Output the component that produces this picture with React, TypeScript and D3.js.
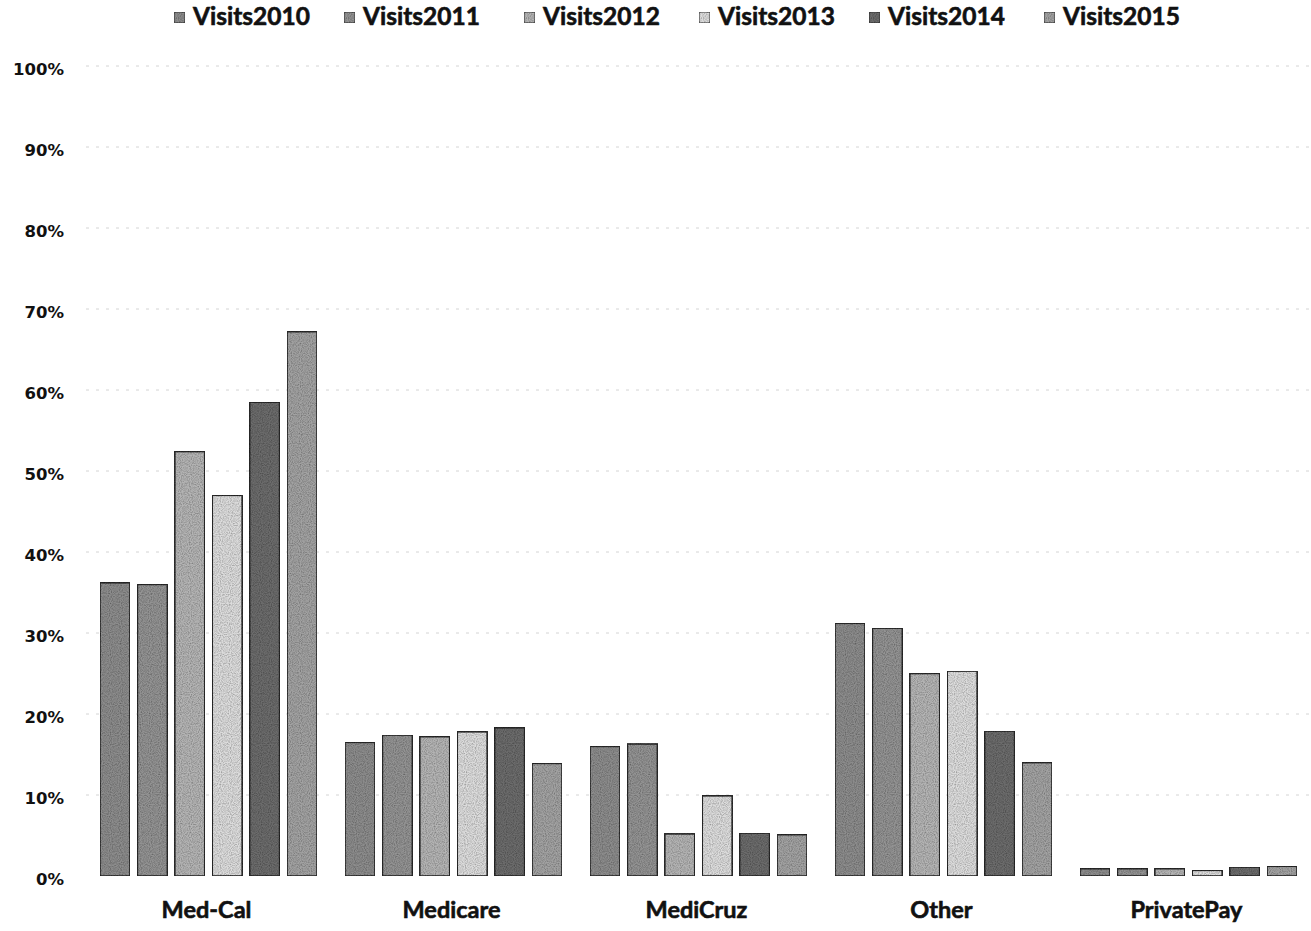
import * as d3 from 'd3';
import { useEffect, useRef } from 'react';

const categories = ['Med-Cal', 'Medicare', 'MediCruz', 'Other', 'PrivatePay'];
const seriesNames = ['Visits2010', 'Visits2011', 'Visits2012', 'Visits2013', 'Visits2014', 'Visits2015'];
// values per series, in category order
const visits2010 = [0.362, 0.165, 0.16, 0.312, 0.009];
const visits2011 = [0.36, 0.174, 0.163, 0.306, 0.009];
const visits2012 = [0.524, 0.172, 0.052, 0.25, 0.009];
const visits2013 = [0.47, 0.178, 0.099, 0.253, 0.007];
const visits2014 = [0.585, 0.183, 0.053, 0.179, 0.011];
const visits2015 = [0.672, 0.139, 0.051, 0.14, 0.012];
const seriesValues = [visits2010, visits2011, visits2012, visits2013, visits2014, visits2015];
const seriesColors = ['#8c8c8c', '#939393', '#b4b4b4', '#dcdcdc', '#6c6c6c', '#a2a2a2'];
const yTicks = [0, 0.1, 0.2, 0.3, 0.4, 0.5, 0.6, 0.7, 0.8, 0.9, 1];

const W = 1311;
const H = 931;

export default function App() {
  const svgRef = useRef<SVGSVGElement>(null);

  useEffect(() => {
    if (!svgRef.current) return;
    const svg = d3.select(svgRef.current);
    svg.selectAll('*').remove();

    const y = d3.scaleLinear().domain([0, 1]).range([876, 66]);
    const x0 = d3.scaleBand<string>().domain(categories).range([86, 1311]);
    const x1 = d3.scaleBand<string>().domain(seriesNames).range([14, 231]).paddingInner(0.2);

    // grain filter for the scanned look
    const defs = svg.append('defs');
    const f = defs.append('filter').attr('id', 'grain').attr('x', 0).attr('y', 0).attr('width', 1).attr('height', 1);
    f.append('feTurbulence').attr('type', 'fractalNoise').attr('baseFrequency', 0.9).attr('numOctaves', 1).attr('result', 'n');
    f.append('feColorMatrix').attr('in', 'n').attr('type', 'matrix')
      .attr('values', '0 0 0 0 0  0 0 0 0 0  0 0 0 0 0  0 0 0 -1.2 0.75').attr('result', 'a');
    f.append('feComposite').attr('in', 'a').attr('in2', 'SourceGraphic').attr('operator', 'in').attr('result', 'b');
    f.append('feMerge').selectAll('feMergeNode').data(['SourceGraphic', 'b']).enter()
      .append('feMergeNode').attr('in', (d) => d);

    // gridlines (faint, broken as in the scan)
    svg.append('g').selectAll('line')
      .data(yTicks.slice(1))
      .enter()
      .append('line')
      .attr('x1', 86)
      .attr('x2', W)
      .attr('y1', (d) => y(d))
      .attr('y2', (d) => y(d))
      .attr('stroke', '#d4d4d4')
      .attr('stroke-width', 1)
      .attr('stroke-dasharray', '3 7');

    // y labels
    svg.append('g').selectAll('text')
      .data(yTicks)
      .enter()
      .append('text')
      .attr('x', 64)
      .attr('y', (d) => y(d) + 4)
      .attr('text-anchor', 'end')
      .attr('dominant-baseline', 'middle')
      .attr('font-family', '"DejaVu Sans", sans-serif')
      .attr('font-weight', 700)
      .attr('font-size', 16.5)
      .attr('fill', '#111')
      .text((d) => d3.format('.0%')(d));

    // bars
    const groups = svg.append('g').selectAll('g')
      .data(categories)
      .enter()
      .append('g')
      .attr('transform', (c) => `translate(${x0(c)},0)`);

    groups.selectAll('rect')
      .data((c, ci) => seriesNames.map((s, si) => ({ s, si, v: seriesValues[si][ci] })))
      .enter()
      .append('rect')
      .attr('x', (d) => x1(d.s) ?? 0)
      .attr('y', (d) => y(d.v))
      .attr('width', x1.bandwidth())
      .attr('height', (d) => y(0) - y(d.v))
      .attr('fill', (d) => seriesColors[d.si])
      .attr('stroke', '#2a2a2a')
      .attr('stroke-width', 1.6)
      .attr('filter', 'url(#grain)');

    // x labels
    svg.append('g').selectAll('text')
      .data(categories)
      .enter()
      .append('text')
      .attr('x', (c) => (x0(c) ?? 0) + x0.bandwidth() / 2 - 2)
      .attr('y', 918)
      .attr('text-anchor', 'middle')
      .attr('font-family', 'Lato, sans-serif')
      .attr('font-weight', 700)
      .attr('font-size', 23.5)
      .attr('fill', '#111')
      .attr('stroke', '#111')
      .attr('stroke-width', 0.6)
      .text((c) => c);

    // legend
    const legendX = [174, 344, 524, 699, 869, 1044];
    const leg = svg.append('g').selectAll('g')
      .data(seriesNames)
      .enter()
      .append('g')
      .attr('transform', (d, i) => `translate(${legendX[i]},17)`);
    leg.append('rect')
      .attr('x', 0)
      .attr('y', -5)
      .attr('width', 11)
      .attr('height', 11)
      .attr('fill', (d, i) => seriesColors[i])
      .attr('stroke', '#333')
      .attr('stroke-width', 1)
      .attr('filter', 'url(#grain)');
    leg.append('text')
      .attr('x', 19)
      .attr('y', 2)
      .attr('dominant-baseline', 'middle')
      .attr('font-family', 'Lato, sans-serif')
      .attr('font-weight', 700)
      .attr('font-size', 24.5)
      .attr('fill', '#111')
      .attr('stroke', '#111')
      .attr('stroke-width', 0.6)
      .text((d) => d);
  }, []);

  return (
    <svg
      ref={svgRef}
      width={W}
      height={H}
      style={{ position: 'absolute', left: 0, top: 0, background: '#fff' }}
    />
  );
}
